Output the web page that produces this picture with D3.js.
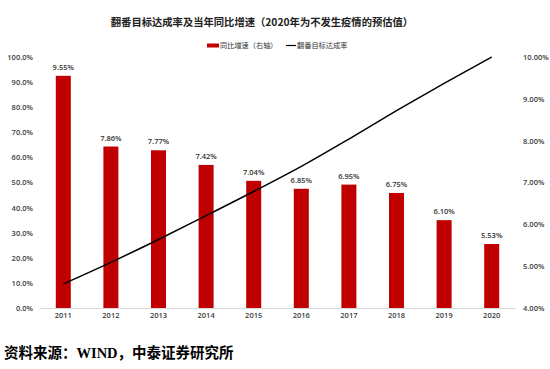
<!DOCTYPE html>
<html>
<head>
<meta charset="utf-8">
<script src="https://cdn.jsdelivr.net/npm/d3@7"></script>
<style>
  body { margin: 0; background: #fff; }
  svg { display: block; font-family: "Noto Sans CJK SC", "Noto Sans", sans-serif; }
</style>
</head>
<body>
<svg width="550" height="369"></svg>
<script>
var years = ['2011', '2012', '2013', '2014', '2015', '2016', '2017', '2018', '2019', '2020'];
var growth = [9.55, 7.86, 7.77, 7.42, 7.04, 6.85, 6.95, 6.75, 6.10, 5.53];       // 同比增速, right axis
var completion = [9.6, 18.2, 27.3, 36.8, 46.4, 56.4, 67.3, 78.6, 89.5, 100.0];   // 翻番目标达成率, left axis
var leftTicks = [0, 10, 20, 30, 40, 50, 60, 70, 80, 90, 100];
var rightTicks = [4, 5, 6, 7, 8, 9, 10];

var svg = d3.select("svg");
var plotTop = 57, plotBottom = 308, plotLeft = 39.5, plotRight = 515.5;

var x = d3.scaleBand().domain(years).range([plotLeft, plotRight]);
var yL = d3.scaleLinear().domain([0, 100]).range([plotBottom, plotTop]);
var yR = d3.scaleLinear().domain([4, 10]).range([plotBottom, plotTop]);

var tickColor = "#404040";
var numFont = "'Open Sans', sans-serif";

// title
svg.append("text")
  .attr("x", 262).attr("y", 26)
  .attr("text-anchor", "middle")
  .attr("font-size", 10.3).attr("font-weight", "bold").attr("fill", "#222")
  .text("翻番目标达成率及当年同比增速（2020年为不发生疫情的预估值）");

// legend
var lg = svg.append("g").attr("font-size", 7.2).attr("fill", "#333");
lg.append("rect").attr("x", 207).attr("y", 43.5).attr("width", 12).attr("height", 4).attr("fill", "#C00000");
lg.append("text").attr("x", 220).attr("y", 48).text("同比增速（右轴）");
lg.append("line").attr("x1", 286).attr("x2", 296).attr("y1", 45.5).attr("y2", 45.5).attr("stroke", "#000").attr("stroke-width", 1.2);
lg.append("text").attr("x", 297).attr("y", 48).text("翻番目标达成率");

// baseline
svg.append("line")
  .attr("x1", plotLeft).attr("x2", plotRight)
  .attr("y1", plotBottom + 0.5).attr("y2", plotBottom + 0.5)
  .attr("stroke", "#d9d9d9");

// left axis
var axL = svg.append("g").attr("transform", "translate(33,0)")
  .call(d3.axisLeft(yL).tickValues(leftTicks).tickSize(0).tickPadding(0).tickFormat(d => d3.format(".1f")(d) + "%"));
axL.select(".domain").remove();
axL.selectAll("text").attr("font-size", 7.5).attr("font-weight", 600).attr("fill", tickColor)
  .attr("font-family", numFont);

// right axis
var axR = svg.append("g").attr("transform", "translate(523,0)")
  .call(d3.axisRight(yR).tickValues(rightTicks).tickSize(0).tickPadding(0).tickFormat(d => d3.format(".2f")(d) + "%"));
axR.select(".domain").remove();
axR.selectAll("text").attr("font-size", 7.5).attr("font-weight", 600).attr("fill", tickColor)
  .attr("font-family", numFont);

// x axis
var axX = svg.append("g").attr("transform", "translate(0," + (plotBottom + 5) + ")")
  .call(d3.axisBottom(x).tickSize(0).tickPadding(0));
axX.select(".domain").remove();
axX.selectAll("text").attr("font-size", 7.5).attr("font-weight", 600).attr("fill", tickColor)
  .attr("font-family", numFont);

// bars
var bw = 15;
svg.append("g").selectAll("rect")
  .data(years)
  .enter().append("rect")
    .attr("x", d => x(d) + x.bandwidth() / 2 - bw / 2)
    .attr("width", bw)
    .attr("y", (d, i) => yR(growth[i]))
    .attr("height", (d, i) => plotBottom - yR(growth[i]))
    .attr("fill", "#C00000");

// bar labels
svg.append("g").selectAll("text")
  .data(years)
  .enter().append("text")
    .attr("x", d => x(d) + x.bandwidth() / 2)
    .attr("y", (d, i) => yR(growth[i]) - 6)
    .attr("text-anchor", "middle")
    .attr("font-size", 7.5).attr("font-weight", 600).attr("fill", "#333")
    .attr("font-family", numFont)
    .text((d, i) => d3.format(".2f")(growth[i]) + "%");

// line
var line = d3.line()
  .x((d, i) => x(years[i]) + x.bandwidth() / 2)
  .y(d => yL(d))
  .curve(d3.curveMonotoneX);
svg.append("path")
  .datum(completion)
  .attr("d", line)
  .attr("fill", "none")
  .attr("stroke", "#000")
  .attr("stroke-width", 1.5);

// source
var src = svg.append("text")
  .attr("x", 4).attr("y", 358)
  .attr("font-size", 14.5).attr("font-weight", "bold").attr("fill", "#000");
src.append("tspan").text("资料来源：");
src.append("tspan").attr("font-family", "'Liberation Serif', serif").text("WIND");
src.append("tspan").text("，中泰证券研究所");
</script>
</body>
</html>
